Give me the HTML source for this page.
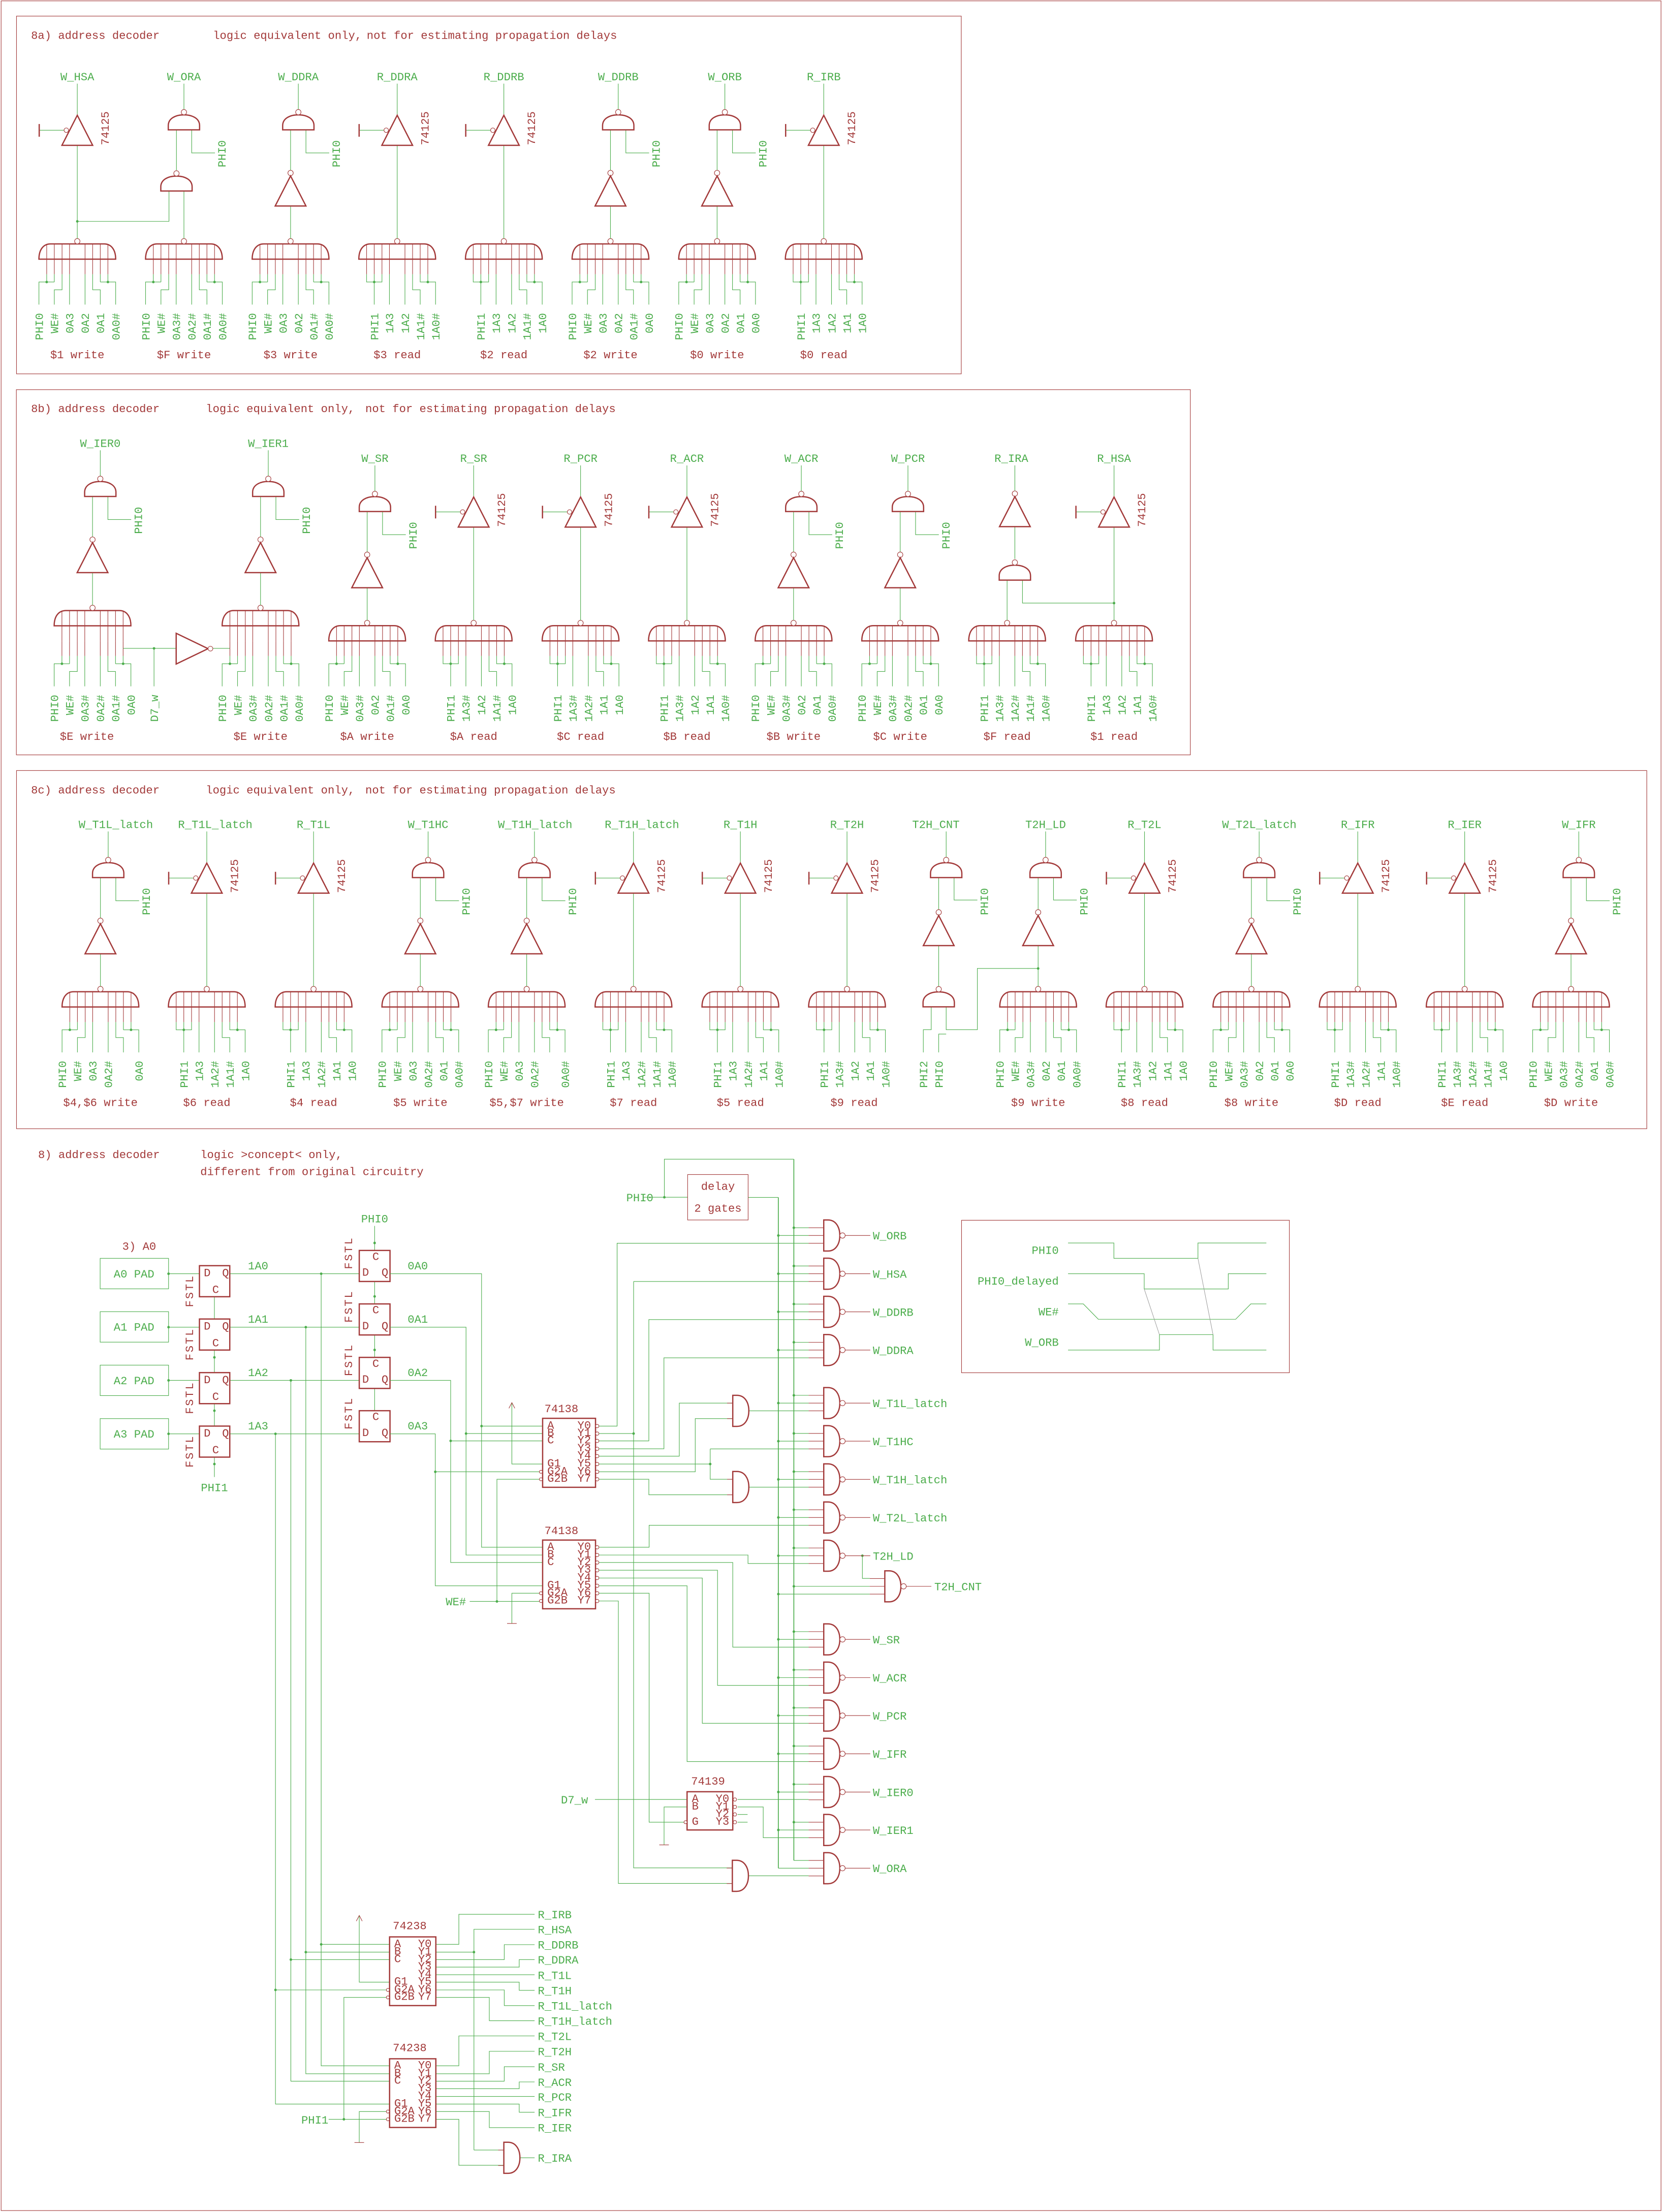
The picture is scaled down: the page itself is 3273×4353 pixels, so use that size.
<!DOCTYPE html>
<html><head><meta charset="utf-8"><style>
html,body{margin:0;padding:0;background:#fff}
svg{display:block}
svg text{font-family:"Liberation Mono",monospace;font-size:8px}
.tg{fill:#4cad4c}.tr{fill:#a33a3a}
.pl text{text-anchor:end;fill:#4cad4c}
.m{text-anchor:middle}.e{text-anchor:end}
.r{stroke:#a33a3a;stroke-width:.4;fill:none}
.R{stroke:#a33a3a;stroke-width:.9;fill:none}
.g{stroke:#4cad4c;stroke-width:.4;fill:none}
.g2{stroke:#4cad4c;stroke-width:.6;fill:none}
.gy{stroke:#999;stroke-width:.35;fill:none}
.b{stroke:#a33a3a;stroke-width:.4;fill:#fff}
.d{fill:#4cad4c}
.s{font-size:5px !important}
.f{font-size:7px !important;letter-spacing:1px}
</style></head><body>
<svg xmlns="http://www.w3.org/2000/svg" width="3273" height="4353" viewBox="0 0 1179 1568">
<defs>
<g id="db">
<path class="R" d="M-27.2,10.8H27.2C27.2,4 24,0 19,0H-19C-24,0 -27.2,4 -27.2,10.8Z"/>
<path class="r" d="M-21.7,0V21.5M-16.3,0V21.5M-10.8,0V21.5M-5.5,0V21.5M5.5,0V21.5M10.9,0V21.5M16.3,0V21.5M21.7,0V21.5"/>
<circle class="b" cx="0" cy="-1.9" r="1.9"/>
</g>
<path id="ext" class="r" d="M-21.7,21.5V32.2M-16.3,21.5V32.2M-10.8,21.5V32.2M-5.5,21.5V32.2M5.5,21.5V32.2M10.9,21.5V32.2M16.3,21.5V32.2M21.7,21.5V32.2"/>
<g id="w6">
<path class="g" d="M-27.2,0V-16H-16.3M-21.7,-21.5V-16M-16.3,-21.5V-16M-16.3,0V-10.5H-10.8V-21.5M-5.5,0V-21.5M5.5,0V-21.5M16.3,0V-10.5H10.9V-21.5M27.2,0V-16H16.3M21.7,-21.5V-16M16.3,-21.5V-16"/>
<circle class="d" cx="-21.7" cy="-16" r=".9"/><circle class="d" cx="21.7" cy="-16" r=".9"/>
</g>
<g id="w5">
<path class="g" d="M-16.3,0V-21.5M-21.7,-21.5V-16H-10.8V-21.5M-5.5,0V-21.5M5.5,0V-21.5M16.3,0V-10.5H10.9V-21.5M27.2,0V-16H16.3V-21.5M21.7,-21.5V-16"/>
<circle class="d" cx="-16.3" cy="-16" r=".9"/><circle class="d" cx="21.7" cy="-16" r=".9"/>
</g>
<g id="nd">
<path class="R" d="M-11.1,0H11.1V-3C11.1,-8 6,-10.6 0,-10.6C-6,-10.6 -11.1,-8 -11.1,-3Z"/>
<circle class="b" cx="0" cy="-12.5" r="1.9"/>
</g>
<path id="tri" class="R" d="M0,0L10.9,21.3H-10.9Z"/>
<g id="rd">
<path class="g" d="M0,-113.6V-91.2M0,-70V-3.8M-9.4,-80.6H-27"/>
<use href="#tri" y="-91.2"/>
<circle class="b" cx="-7.8" cy="-80.6" r="1.6"/>
<path class="R" d="M-27,-85V-76"/>
</g>
<g id="wr">
<path class="g" d="M5.5,-113.6V-95.3M0,-80.9V-52.2M10.9,-80.9V-64.5H27.4M0,-26.9V-3.8"/>
<use href="#nd" x="5.5" y="-80.9"/>
<circle class="b" cx="0" cy="-50.3" r="1.9"/>
<use href="#tri" y="-48.2"/>
</g>
<g id="ng">
<path class="r" d="M-10.7,-5.5H0M-10.7,0H0M-10.7,5.5H0M15.2,0H33"/>
<path class="R" d="M0,-11V11H3C8.5,11 11.4,6 11.4,0C11.4,-6 8.5,-11 3,-11Z"/>
<circle class="b" cx="13.3" cy="0" r="1.9"/>
</g>
<g id="ag">
<path class="r" d="M-4,-5.5H0M-4,5.5H0"/>
<path class="R" d="M0,-11V11H3C8.5,11 11.4,6 11.4,0C11.4,-6 8.5,-11 3,-11Z"/>
</g>
</defs>

<rect x="0" y="0" width="1179" height="1568" fill="#fff"/>
<rect class="r" x="0.8" y="0.6" width="1176.8" height="1566.4"/>

<!-- ================= 8a ================= -->
<rect class="r" x="11.7" y="11.4" width="669.8" height="253.6"/>
<text class="tr" x="22" y="27.6">8a) address decoder</text>
<text class="tr" x="151" y="27.6">logic equivalent only,</text>
<text class="tr" x="260" y="27.6">not for estimating propagation delays</text>

<g transform="translate(54.8,172.9)">
<use href="#db"/><use href="#w6" y="43"/><use href="#rd"/>
<text class="tg m" y="-116">W_HSA</text>
<text class="tr" transform="translate(22.2,-70)rotate(-90)">74125</text>
<text class="tr m" y="81">$1 write</text>
<g class="pl"><text transform="translate(-24.4,49)rotate(-90)">PHI0</text><text transform="translate(-13.5,49)rotate(-90)">WE#</text><text transform="translate(-2.7,49)rotate(-90)">0A3</text><text transform="translate(8.3,49)rotate(-90)">0A2</text><text transform="translate(19.1,49)rotate(-90)">0A1</text><text transform="translate(30,49)rotate(-90)">0A0#</text></g>
</g>
<g transform="translate(130.4,172.9)">
<use href="#db"/><use href="#w6" y="43"/>
<path class="g" d="M0,-113.6V-95.3M-5.3,-80.9V-52.2M5.5,-80.9V-64.5H22M-10.6,-37.5V-16H-75.6M0,-37.5V-3.8"/>
<use href="#nd" y="-80.9"/><use href="#nd" x="-5.3" y="-37.5"/>
<circle class="d" cx="-75.6" cy="-16" r=".9"/>
<text class="tg m" y="-116">W_ORA</text>
<text class="tg" transform="translate(29.6,-73.5)rotate(-90)" text-anchor="end">PHI0</text>
<text class="tr m" y="81">$F write</text>
<g class="pl"><text transform="translate(-24.4,49)rotate(-90)">PHI0</text><text transform="translate(-13.5,49)rotate(-90)">WE#</text><text transform="translate(-2.7,49)rotate(-90)">0A3#</text><text transform="translate(8.3,49)rotate(-90)">0A2#</text><text transform="translate(19.1,49)rotate(-90)">0A1#</text><text transform="translate(30,49)rotate(-90)">0A0#</text></g>
</g>
<g transform="translate(206,172.9)">
<use href="#db"/><use href="#w6" y="43"/><use href="#wr"/>
<text class="tg m" x="5.5" y="-116">W_DDRA</text>
<text class="tg" transform="translate(35,-73.5)rotate(-90)" text-anchor="end">PHI0</text>
<text class="tr m" y="81">$3 write</text>
<g class="pl"><text transform="translate(-24.4,49)rotate(-90)">PHI0</text><text transform="translate(-13.5,49)rotate(-90)">WE#</text><text transform="translate(-2.7,49)rotate(-90)">0A3</text><text transform="translate(8.3,49)rotate(-90)">0A2</text><text transform="translate(19.1,49)rotate(-90)">0A1#</text><text transform="translate(30,49)rotate(-90)">0A0#</text></g>
</g>
<g transform="translate(281.6,172.9)">
<use href="#db"/><use href="#w5" y="43"/><use href="#rd"/>
<text class="tg m" y="-116">R_DDRA</text>
<text class="tr" transform="translate(22.2,-70)rotate(-90)">74125</text>
<text class="tr m" y="81">$3 read</text>
<g class="pl"><text transform="translate(-13.5,49)rotate(-90)">PHI1</text><text transform="translate(-2.7,49)rotate(-90)">1A3</text><text transform="translate(8.3,49)rotate(-90)">1A2</text><text transform="translate(19.1,49)rotate(-90)">1A1#</text><text transform="translate(30,49)rotate(-90)">1A0#</text></g>
</g>
<g transform="translate(357.2,172.9)">
<use href="#db"/><use href="#w5" y="43"/><use href="#rd"/>
<text class="tg m" y="-116">R_DDRB</text>
<text class="tr" transform="translate(22.2,-70)rotate(-90)">74125</text>
<text class="tr m" y="81">$2 read</text>
<g class="pl"><text transform="translate(-13.5,49)rotate(-90)">PHI1</text><text transform="translate(-2.7,49)rotate(-90)">1A3</text><text transform="translate(8.3,49)rotate(-90)">1A2</text><text transform="translate(19.1,49)rotate(-90)">1A1#</text><text transform="translate(30,49)rotate(-90)">1A0</text></g>
</g>
<g transform="translate(432.8,172.9)">
<use href="#db"/><use href="#w6" y="43"/><use href="#wr"/>
<text class="tg m" x="5.5" y="-116">W_DDRB</text>
<text class="tg" transform="translate(35,-73.5)rotate(-90)" text-anchor="end">PHI0</text>
<text class="tr m" y="81">$2 write</text>
<g class="pl"><text transform="translate(-24.4,49)rotate(-90)">PHI0</text><text transform="translate(-13.5,49)rotate(-90)">WE#</text><text transform="translate(-2.7,49)rotate(-90)">0A3</text><text transform="translate(8.3,49)rotate(-90)">0A2</text><text transform="translate(19.1,49)rotate(-90)">0A1#</text><text transform="translate(30,49)rotate(-90)">0A0</text></g>
</g>
<g transform="translate(508.4,172.9)">
<use href="#db"/><use href="#w6" y="43"/><use href="#wr"/>
<text class="tg m" x="5.5" y="-116">W_ORB</text>
<text class="tg" transform="translate(35,-73.5)rotate(-90)" text-anchor="end">PHI0</text>
<text class="tr m" y="81">$0 write</text>
<g class="pl"><text transform="translate(-24.4,49)rotate(-90)">PHI0</text><text transform="translate(-13.5,49)rotate(-90)">WE#</text><text transform="translate(-2.7,49)rotate(-90)">0A3</text><text transform="translate(8.3,49)rotate(-90)">0A2</text><text transform="translate(19.1,49)rotate(-90)">0A1</text><text transform="translate(30,49)rotate(-90)">0A0</text></g>
</g>
<g transform="translate(584,172.9)">
<use href="#db"/><use href="#w5" y="43"/><use href="#rd"/>
<text class="tg m" y="-116">R_IRB</text>
<text class="tr" transform="translate(22.2,-70)rotate(-90)">74125</text>
<text class="tr m" y="81">$0 read</text>
<g class="pl"><text transform="translate(-13.5,49)rotate(-90)">PHI1</text><text transform="translate(-2.7,49)rotate(-90)">1A3</text><text transform="translate(8.3,49)rotate(-90)">1A2</text><text transform="translate(19.1,49)rotate(-90)">1A1</text><text transform="translate(30,49)rotate(-90)">1A0</text></g>
</g>

<!-- ================= 8b ================= -->
<rect class="r" x="11.6" y="276.2" width="832.3" height="258.9"/>
<text class="tr" x="22" y="292.2">8b) address decoder</text>
<text class="tr" x="146" y="292.2">logic equivalent only,</text>
<text class="tr" x="259" y="292.2">not for estimating propagation delays</text>

<g transform="translate(65.6,432.8)">
<use href="#db"/><use href="#ext"/><use href="#w6" y="53.7"/><use href="#wr"/>
<text class="tg m" x="5.5" y="-116">W_IER0</text>
<text class="tg" transform="translate(35,-73.5)rotate(-90)" text-anchor="end">PHI0</text>
<text class="tr m" x="-4" y="91.7">$E write</text>
<g class="pl"><text transform="translate(-24.4,59.7)rotate(-90)">PHI0</text><text transform="translate(-13.5,59.7)rotate(-90)">WE#</text><text transform="translate(-2.7,59.7)rotate(-90)">0A3#</text><text transform="translate(8.3,59.7)rotate(-90)">0A2#</text><text transform="translate(19.1,59.7)rotate(-90)">0A1#</text><text transform="translate(30,59.7)rotate(-90)">0A0</text><text transform="translate(46.4,59.7)rotate(-90)">D7_w</text></g>
</g>
<path class="g" d="M87.3,459.6H124.9M150.9,459.6H163M109.2,459.6V486.5"/>
<path class="R" d="M124.9,448.9L147.5,459.8L124.9,470.7Z"/>
<circle class="b" cx="149.2" cy="459.8" r="1.7"/>
<circle class="d" cx="109.2" cy="459.6" r=".9"/>
<g transform="translate(184.7,432.8)">
<use href="#db"/><use href="#ext"/><use href="#w6" y="53.7"/><use href="#wr"/>
<text class="tg m" x="5.5" y="-116">W_IER1</text>
<text class="tg" transform="translate(35,-73.5)rotate(-90)" text-anchor="end">PHI0</text>
<text class="tr m" y="91.7">$E write</text>
<g class="pl"><text transform="translate(-24.4,59.7)rotate(-90)">PHI0</text><text transform="translate(-13.5,59.7)rotate(-90)">WE#</text><text transform="translate(-2.7,59.7)rotate(-90)">0A3#</text><text transform="translate(8.3,59.7)rotate(-90)">0A2#</text><text transform="translate(19.1,59.7)rotate(-90)">0A1#</text><text transform="translate(30,59.7)rotate(-90)">0A0#</text></g>
</g>
<g transform="translate(260.3,443.5)">
<use href="#db"/><use href="#w6" y="43"/><use href="#wr"/>
<text class="tg m" x="5.5" y="-116">W_SR</text>
<text class="tg" transform="translate(35,-73.5)rotate(-90)" text-anchor="end">PHI0</text>
<text class="tr m" y="81">$A write</text>
<g class="pl"><text transform="translate(-24.4,49)rotate(-90)">PHI0</text><text transform="translate(-13.5,49)rotate(-90)">WE#</text><text transform="translate(-2.7,49)rotate(-90)">0A3#</text><text transform="translate(8.3,49)rotate(-90)">0A2</text><text transform="translate(19.1,49)rotate(-90)">0A1#</text><text transform="translate(30,49)rotate(-90)">0A0</text></g>
</g>
<g transform="translate(335.8,443.5)">
<use href="#db"/><use href="#w5" y="43"/><use href="#rd"/>
<text class="tg m" y="-116">R_SR</text>
<text class="tr" transform="translate(22.2,-70)rotate(-90)">74125</text>
<text class="tr m" y="81">$A read</text>
<g class="pl"><text transform="translate(-13.5,49)rotate(-90)">PHI1</text><text transform="translate(-2.7,49)rotate(-90)">1A3#</text><text transform="translate(8.3,49)rotate(-90)">1A2</text><text transform="translate(19.1,49)rotate(-90)">1A1#</text><text transform="translate(30,49)rotate(-90)">1A0</text></g>
</g>
<g transform="translate(411.6,443.5)">
<use href="#db"/><use href="#w5" y="43"/><use href="#rd"/>
<text class="tg m" y="-116">R_PCR</text>
<text class="tr" transform="translate(22.2,-70)rotate(-90)">74125</text>
<text class="tr m" y="81">$C read</text>
<g class="pl"><text transform="translate(-13.5,49)rotate(-90)">PHI1</text><text transform="translate(-2.7,49)rotate(-90)">1A3#</text><text transform="translate(8.3,49)rotate(-90)">1A2#</text><text transform="translate(19.1,49)rotate(-90)">1A1</text><text transform="translate(30,49)rotate(-90)">1A0</text></g>
</g>
<g transform="translate(487,443.5)">
<use href="#db"/><use href="#w5" y="43"/><use href="#rd"/>
<text class="tg m" y="-116">R_ACR</text>
<text class="tr" transform="translate(22.2,-70)rotate(-90)">74125</text>
<text class="tr m" y="81">$B read</text>
<g class="pl"><text transform="translate(-13.5,49)rotate(-90)">PHI1</text><text transform="translate(-2.7,49)rotate(-90)">1A3#</text><text transform="translate(8.3,49)rotate(-90)">1A2</text><text transform="translate(19.1,49)rotate(-90)">1A1</text><text transform="translate(30,49)rotate(-90)">1A0#</text></g>
</g>
<g transform="translate(562.6,443.5)">
<use href="#db"/><use href="#w6" y="43"/><use href="#wr"/>
<text class="tg m" x="5.5" y="-116">W_ACR</text>
<text class="tg" transform="translate(35,-73.5)rotate(-90)" text-anchor="end">PHI0</text>
<text class="tr m" y="81">$B write</text>
<g class="pl"><text transform="translate(-24.4,49)rotate(-90)">PHI0</text><text transform="translate(-13.5,49)rotate(-90)">WE#</text><text transform="translate(-2.7,49)rotate(-90)">0A3#</text><text transform="translate(8.3,49)rotate(-90)">0A2</text><text transform="translate(19.1,49)rotate(-90)">0A1</text><text transform="translate(30,49)rotate(-90)">0A0#</text></g>
</g>
<g transform="translate(638.2,443.5)">
<use href="#db"/><use href="#w6" y="43"/><use href="#wr"/>
<text class="tg m" x="5.5" y="-116">W_PCR</text>
<text class="tg" transform="translate(35,-73.5)rotate(-90)" text-anchor="end">PHI0</text>
<text class="tr m" y="81">$C write</text>
<g class="pl"><text transform="translate(-24.4,49)rotate(-90)">PHI0</text><text transform="translate(-13.5,49)rotate(-90)">WE#</text><text transform="translate(-2.7,49)rotate(-90)">0A3#</text><text transform="translate(8.3,49)rotate(-90)">0A2#</text><text transform="translate(19.1,49)rotate(-90)">0A1</text><text transform="translate(30,49)rotate(-90)">0A0</text></g>
</g>
<g transform="translate(714,443.5)">
<use href="#db"/><use href="#w5" y="43"/>
<path class="g" d="M5.5,-113.6V-95.7M5.5,-69.9V-47.3M0,-32.3V-3.8M10.9,-32.3V-16H75.8"/>
<circle class="b" cx="5.5" cy="-93.6" r="1.9"/>
<use href="#tri" x="5.5" y="-91.5"/>
<use href="#nd" x="5.5" y="-32.3"/>
<circle class="d" cx="75.8" cy="-16" r=".9"/>
<text class="tg m" x="3" y="-116">R_IRA</text>
<text class="tr m" y="81">$F read</text>
<g class="pl"><text transform="translate(-13.5,49)rotate(-90)">PHI1</text><text transform="translate(-2.7,49)rotate(-90)">1A3#</text><text transform="translate(8.3,49)rotate(-90)">1A2#</text><text transform="translate(19.1,49)rotate(-90)">1A1#</text><text transform="translate(30,49)rotate(-90)">1A0#</text></g>
</g>
<g transform="translate(789.8,443.5)">
<use href="#db"/><use href="#w5" y="43"/><use href="#rd"/>
<text class="tg m" y="-116">R_HSA</text>
<text class="tr" transform="translate(22.2,-70)rotate(-90)">74125</text>
<text class="tr m" y="81">$1 read</text>
<g class="pl"><text transform="translate(-13.5,49)rotate(-90)">PHI1</text><text transform="translate(-2.7,49)rotate(-90)">1A3</text><text transform="translate(8.3,49)rotate(-90)">1A2</text><text transform="translate(19.1,49)rotate(-90)">1A1</text><text transform="translate(30,49)rotate(-90)">1A0#</text></g>
</g>

<!-- ================= 8c ================= -->
<rect class="r" x="11.7" y="546.2" width="1155.8" height="253.9"/>
<text class="tr" x="22" y="562.4">8c) address decoder</text>
<text class="tr" x="146" y="562.4">logic equivalent only,</text>
<text class="tr" x="259" y="562.4">not for estimating propagation delays</text>

<g transform="translate(71.2,703)">
<use href="#db"/><use href="#w6" y="43"/><use href="#wr"/>
<text class="tg m" x="10.9" y="-116">W_T1L_latch</text>
<text class="tg" transform="translate(35,-73.5)rotate(-90)" text-anchor="end">PHI0</text>
<text class="tr m" y="81">$4,$6 write</text>
<g class="pl"><text transform="translate(-24.4,49)rotate(-90)">PHI0</text><text transform="translate(-13.5,49)rotate(-90)">WE#</text><text transform="translate(-2.7,49)rotate(-90)">0A3</text><text transform="translate(8.3,49)rotate(-90)">0A2#</text><text transform="translate(30,49)rotate(-90)">0A0</text></g>
</g>
<g transform="translate(146.6,703)">
<use href="#db"/><use href="#w5" y="43"/><use href="#rd"/>
<text class="tg m" x="6" y="-116">R_T1L_latch</text>
<text class="tr" transform="translate(22.2,-70)rotate(-90)">74125</text>
<text class="tr m" y="81">$6 read</text>
<g class="pl"><text transform="translate(-13.5,49)rotate(-90)">PHI1</text><text transform="translate(-2.7,49)rotate(-90)">1A3</text><text transform="translate(8.3,49)rotate(-90)">1A2#</text><text transform="translate(19.1,49)rotate(-90)">1A1#</text><text transform="translate(30,49)rotate(-90)">1A0</text></g>
</g>
<g transform="translate(222.3,703)">
<use href="#db"/><use href="#w5" y="43"/><use href="#rd"/>
<text class="tg m" y="-116">R_T1L</text>
<text class="tr" transform="translate(22.2,-70)rotate(-90)">74125</text>
<text class="tr m" y="81">$4 read</text>
<g class="pl"><text transform="translate(-13.5,49)rotate(-90)">PHI1</text><text transform="translate(-2.7,49)rotate(-90)">1A3</text><text transform="translate(8.3,49)rotate(-90)">1A2#</text><text transform="translate(19.1,49)rotate(-90)">1A1</text><text transform="translate(30,49)rotate(-90)">1A0</text></g>
</g>
<g transform="translate(298,703)">
<use href="#db"/><use href="#w6" y="43"/><use href="#wr"/>
<text class="tg m" x="5.5" y="-116">W_T1HC</text>
<text class="tg" transform="translate(35,-73.5)rotate(-90)" text-anchor="end">PHI0</text>
<text class="tr m" y="81">$5 write</text>
<g class="pl"><text transform="translate(-24.4,49)rotate(-90)">PHI0</text><text transform="translate(-13.5,49)rotate(-90)">WE#</text><text transform="translate(-2.7,49)rotate(-90)">0A3</text><text transform="translate(8.3,49)rotate(-90)">0A2#</text><text transform="translate(19.1,49)rotate(-90)">0A1</text><text transform="translate(30,49)rotate(-90)">0A0#</text></g>
</g>
<g transform="translate(373.4,703)">
<use href="#db"/><use href="#w6" y="43"/><use href="#wr"/>
<text class="tg m" x="6" y="-116">W_T1H_latch</text>
<text class="tg" transform="translate(35,-73.5)rotate(-90)" text-anchor="end">PHI0</text>
<text class="tr m" y="81">$5,$7 write</text>
<g class="pl"><text transform="translate(-24.4,49)rotate(-90)">PHI0</text><text transform="translate(-13.5,49)rotate(-90)">WE#</text><text transform="translate(-2.7,49)rotate(-90)">0A3</text><text transform="translate(8.3,49)rotate(-90)">0A2#</text><text transform="translate(30,49)rotate(-90)">0A0#</text></g>
</g>
<g transform="translate(449.1,703)">
<use href="#db"/><use href="#w5" y="43"/><use href="#rd"/>
<text class="tg m" x="6" y="-116">R_T1H_latch</text>
<text class="tr" transform="translate(22.2,-70)rotate(-90)">74125</text>
<text class="tr m" y="81">$7 read</text>
<g class="pl"><text transform="translate(-13.5,49)rotate(-90)">PHI1</text><text transform="translate(-2.7,49)rotate(-90)">1A3</text><text transform="translate(8.3,49)rotate(-90)">1A2#</text><text transform="translate(19.1,49)rotate(-90)">1A1#</text><text transform="translate(30,49)rotate(-90)">1A0#</text></g>
</g>
<g transform="translate(524.9,703)">
<use href="#db"/><use href="#w5" y="43"/><use href="#rd"/>
<text class="tg m" y="-116">R_T1H</text>
<text class="tr" transform="translate(22.2,-70)rotate(-90)">74125</text>
<text class="tr m" y="81">$5 read</text>
<g class="pl"><text transform="translate(-13.5,49)rotate(-90)">PHI1</text><text transform="translate(-2.7,49)rotate(-90)">1A3</text><text transform="translate(8.3,49)rotate(-90)">1A2#</text><text transform="translate(19.1,49)rotate(-90)">1A1</text><text transform="translate(30,49)rotate(-90)">1A0#</text></g>
</g>
<g transform="translate(600.5,703)">
<use href="#db"/><use href="#w5" y="43"/><use href="#rd"/>
<text class="tg m" y="-116">R_T2H</text>
<text class="tr" transform="translate(22.2,-70)rotate(-90)">74125</text>
<text class="tr m" x="5" y="81">$9 read</text>
<g class="pl"><text transform="translate(-13.5,49)rotate(-90)">PHI1</text><text transform="translate(-2.7,49)rotate(-90)">1A3#</text><text transform="translate(8.3,49)rotate(-90)">1A2</text><text transform="translate(19.1,49)rotate(-90)">1A1</text><text transform="translate(30,49)rotate(-90)">1A0#</text></g>
</g>
<g transform="translate(665.5,703)">
<path class="g" d="M5.3,-113.6V-95.3M0,-80.9V-58.2M10.9,-80.9V-65H27.4M0,-32.5V-3.8M-5.3,10.7V26.9H-10.9V43M5.3,10.7V26.9H27.4V-16.5H70.5M0,43V30H5.3"/>
<use href="#nd" x="5.3" y="-80.9"/>
<circle class="b" cx="0" cy="-56.3" r="1.9"/>
<use href="#tri" y="-54"/>
<use href="#nd" y="10.7"/>
<circle class="d" cx="70.5" cy="-16.5" r=".9"/>
<text class="tg m" x="-2" y="-116">T2H_CNT</text>
<text class="tg" transform="translate(35,-73.5)rotate(-90)" text-anchor="end">PHI0</text>
<g class="pl"><text transform="translate(-8.1,49)rotate(-90)">PHI2</text><text transform="translate(2.8,49)rotate(-90)">PHI0</text></g>
</g>
<g transform="translate(736,703)">
<use href="#db"/><use href="#w6" y="43"/>
<path class="g" d="M5.3,-113.6V-95.3M0,-80.9V-58.2M10.9,-80.9V-65H27.4M0,-32.5V-3.8"/>
<use href="#nd" x="5.3" y="-80.9"/>
<circle class="b" cx="0" cy="-56.3" r="1.9"/>
<use href="#tri" y="-54"/>
<text class="tg m" x="5.3" y="-116">T2H_LD</text>
<text class="tg" transform="translate(35,-73.5)rotate(-90)" text-anchor="end">PHI0</text>
<text class="tr m" y="81">$9 write</text>
<g class="pl"><text transform="translate(-24.4,49)rotate(-90)">PHI0</text><text transform="translate(-13.5,49)rotate(-90)">WE#</text><text transform="translate(-2.7,49)rotate(-90)">0A3#</text><text transform="translate(8.3,49)rotate(-90)">0A2</text><text transform="translate(19.1,49)rotate(-90)">0A1</text><text transform="translate(30,49)rotate(-90)">0A0#</text></g>
</g>
<g transform="translate(811.4,703)">
<use href="#db"/><use href="#w5" y="43"/><use href="#rd"/>
<text class="tg m" y="-116">R_T2L</text>
<text class="tr" transform="translate(22.2,-70)rotate(-90)">74125</text>
<text class="tr m" y="81">$8 read</text>
<g class="pl"><text transform="translate(-13.5,49)rotate(-90)">PHI1</text><text transform="translate(-2.7,49)rotate(-90)">1A3#</text><text transform="translate(8.3,49)rotate(-90)">1A2</text><text transform="translate(19.1,49)rotate(-90)">1A1</text><text transform="translate(30,49)rotate(-90)">1A0</text></g>
</g>
<g transform="translate(887.2,703)">
<use href="#db"/><use href="#w6" y="43"/><use href="#wr"/>
<text class="tg m" x="5.6" y="-116">W_T2L_latch</text>
<text class="tg" transform="translate(35,-73.5)rotate(-90)" text-anchor="end">PHI0</text>
<text class="tr m" y="81">$8 write</text>
<g class="pl"><text transform="translate(-24.4,49)rotate(-90)">PHI0</text><text transform="translate(-13.5,49)rotate(-90)">WE#</text><text transform="translate(-2.7,49)rotate(-90)">0A3#</text><text transform="translate(8.3,49)rotate(-90)">0A2</text><text transform="translate(19.1,49)rotate(-90)">0A1</text><text transform="translate(30,49)rotate(-90)">0A0</text></g>
</g>
<g transform="translate(962.6,703)">
<use href="#db"/><use href="#w5" y="43"/><use href="#rd"/>
<text class="tg m" y="-116">R_IFR</text>
<text class="tr" transform="translate(22.2,-70)rotate(-90)">74125</text>
<text class="tr m" y="81">$D read</text>
<g class="pl"><text transform="translate(-13.5,49)rotate(-90)">PHI1</text><text transform="translate(-2.7,49)rotate(-90)">1A3#</text><text transform="translate(8.3,49)rotate(-90)">1A2#</text><text transform="translate(19.1,49)rotate(-90)">1A1</text><text transform="translate(30,49)rotate(-90)">1A0#</text></g>
</g>
<g transform="translate(1038.4,703)">
<use href="#db"/><use href="#w5" y="43"/><use href="#rd"/>
<text class="tg m" y="-116">R_IER</text>
<text class="tr" transform="translate(22.2,-70)rotate(-90)">74125</text>
<text class="tr m" y="81">$E read</text>
<g class="pl"><text transform="translate(-13.5,49)rotate(-90)">PHI1</text><text transform="translate(-2.7,49)rotate(-90)">1A3#</text><text transform="translate(8.3,49)rotate(-90)">1A2#</text><text transform="translate(19.1,49)rotate(-90)">1A1#</text><text transform="translate(30,49)rotate(-90)">1A0</text></g>
</g>
<g transform="translate(1113.8,703)">
<use href="#db"/><use href="#w6" y="43"/><use href="#wr"/>
<text class="tg m" x="5.5" y="-116">W_IFR</text>
<text class="tg" transform="translate(35,-73.5)rotate(-90)" text-anchor="end">PHI0</text>
<text class="tr m" y="81">$D write</text>
<g class="pl"><text transform="translate(-24.4,49)rotate(-90)">PHI0</text><text transform="translate(-13.5,49)rotate(-90)">WE#</text><text transform="translate(-2.7,49)rotate(-90)">0A3#</text><text transform="translate(8.3,49)rotate(-90)">0A2#</text><text transform="translate(19.1,49)rotate(-90)">0A1</text><text transform="translate(30,49)rotate(-90)">0A0#</text></g>
</g>

<!-- ================= 8 (concept) ================= -->
<text class="tr" x="27" y="821">8) address decoder</text>
<text class="tr" x="142" y="821">logic &gt;concept&lt; only,</text>
<text class="tr" x="142" y="833">different from original circuitry</text>
<text class="tr" x="86.7" y="886">3) A0</text>

<!-- pads -->
<g class="g">
<rect x="71" y="892" width="48.5" height="21.6"/><rect x="71" y="929.8" width="48.5" height="21.6"/>
<rect x="71" y="967.7" width="48.5" height="21.6"/><rect x="71" y="1005.6" width="48.5" height="21.6"/>
<path d="M119.5,902.9H141.4M119.5,940.8H141.4M119.5,978.5H141.4M119.5,1016.4H141.4"/>
<path d="M152,919.2V935M152,957.1V973M152,994.8V1010.9M152,1032.7V1047"/>
<path d="M265.6,869V886.4M265.6,908.4V924.3M265.6,946.1V962.2M265.6,984V1000"/>
<path d="M162.9,902.9H254.7M162.9,940.8H254.7M162.9,978.5H254.7M162.9,1016.4H254.7"/>
</g>
<g class="tg m"><text x="95" y="905.5">A0 PAD</text><text x="95" y="943.3">A1 PAD</text><text x="95" y="981.2">A2 PAD</text><text x="95" y="1019.1">A3 PAD</text></g>
<g class="d"><circle cx="119.5" cy="902.9" r=".9"/><circle cx="119.5" cy="940.8" r=".9"/><circle cx="119.5" cy="978.5" r=".9"/><circle cx="119.5" cy="1016.4" r=".9"/>
<circle cx="152" cy="962.2" r=".9"/><circle cx="152" cy="1000" r=".9"/><circle cx="152" cy="1037.8" r=".9"/>
<circle cx="265.6" cy="881.1" r=".9"/><circle cx="265.6" cy="919" r=".9"/><circle cx="265.6" cy="956.9" r=".9"/>
<circle cx="227.7" cy="902.9" r=".9"/><circle cx="216.8" cy="940.8" r=".9"/><circle cx="206.2" cy="978.5" r=".9"/><circle cx="195.3" cy="1016.4" r=".9"/></g>
<!-- FF1 -->
<g class="R"><rect x="141.4" y="897.2" width="21.5" height="22"/><rect x="141.4" y="935" width="21.5" height="22"/><rect x="141.4" y="973" width="21.5" height="22"/><rect x="141.4" y="1010.9" width="21.5" height="22"/>
<rect x="254.7" y="886.4" width="21.8" height="22"/><rect x="254.7" y="924.3" width="21.8" height="22"/><rect x="254.7" y="962.2" width="21.8" height="22"/><rect x="254.7" y="1000" width="21.8" height="22"/></g>
<g class="tr s">
<text x="144.5" y="904.7">D</text><text x="157.5" y="904.7">Q</text><text x="150.5" y="916.5">C</text>
<text x="144.5" y="942.5">D</text><text x="157.5" y="942.5">Q</text><text x="150.5" y="954.3">C</text>
<text x="144.5" y="980.5">D</text><text x="157.5" y="980.5">Q</text><text x="150.5" y="992.3">C</text>
<text x="144.5" y="1018.4">D</text><text x="157.5" y="1018.4">Q</text><text x="150.5" y="1030.2">C</text>
<text x="264" y="893.1">C</text><text x="256.8" y="904.4">D</text><text x="270.5" y="904.4">Q</text>
<text x="264" y="931">C</text><text x="256.8" y="942.3">D</text><text x="270.5" y="942.3">Q</text>
<text x="264" y="968.9">C</text><text x="256.8" y="980.2">D</text><text x="270.5" y="980.2">Q</text>
<text x="264" y="1006.7">C</text><text x="256.8" y="1018">D</text><text x="270.5" y="1018">Q</text>
</g>
<g class="tr f m">
<text transform="translate(136.8,915)rotate(-90)">FSTL</text><text transform="translate(136.8,952.8)rotate(-90)">FSTL</text><text transform="translate(136.8,990.8)rotate(-90)">FSTL</text><text transform="translate(136.8,1028.7)rotate(-90)">FSTL</text>
<text transform="translate(249.7,888.1)rotate(-90)">FSTL</text><text transform="translate(249.7,926)rotate(-90)">FSTL</text><text transform="translate(249.7,963.9)rotate(-90)">FSTL</text><text transform="translate(249.7,1001.7)rotate(-90)">FSTL</text>
</g>
<g class="tg">
<text x="175.8" y="899.8">1A0</text><text x="175.8" y="937.6">1A1</text><text x="175.8" y="975.4">1A2</text><text x="175.8" y="1013.2">1A3</text>
<text x="289" y="899.8">0A0</text><text x="289" y="937.6">0A1</text><text x="289" y="975.4">0A2</text><text x="289" y="1013.2">0A3</text>
<text class="m" x="152" y="1057">PHI1</text><text class="m" x="265.6" y="866.5">PHI0</text>
<text x="316" y="1138">WE#</text><text x="444" y="851.5">PHI0</text><text x="397.7" y="1278.4">D7_w</text>
<text x="213.6" y="1505.4">PHI1</text>
</g>

<!-- wiring to 74138s -->
<g class="g">
<path d="M276.5,902.9H341.4V1096.8H384.7M341.4,1010.9H384.7"/>
<path d="M276.5,940.8H330.4V1102.3H384.7M330.4,1016.2H384.7"/>
<path d="M276.5,978.5H319.5V1107.6H384.7M319.5,1021.4H384.7"/>
<path d="M276.5,1016.4H308.6V1124.1H384.7M308.6,1043.3H382.4"/>
<path d="M384.7,1037.8H362.9V994.3"/>
<path d="M382.4,1048.6H352.3V1135.2M333,1135.2H382.4"/>
<path d="M382.4,1129.4H362.9V1150.8"/>
</g>
<path class="r" d="M360.8,998.3L362.9,994.3L365,998.3M359.5,1150.8H366.3"/>
<g class="d"><circle cx="341.4" cy="1010.9" r=".9"/><circle cx="330.4" cy="1016.2" r=".9"/><circle cx="319.5" cy="1021.4" r=".9"/><circle cx="308.6" cy="1043.3" r=".9"/><circle cx="352.3" cy="1135.2" r=".9"/></g>

<!-- 74138 #1 -->
<rect class="R" x="384.7" y="1005.4" width="37.5" height="48.9"/>
<text class="tr" x="386" y="1001">74138</text>
<g class="tr s"><text x="388" y="1012.7">A</text><text x="388" y="1018">B</text><text x="388" y="1023.2">C</text><text x="388" y="1039.6">G1</text><text x="388" y="1045.1">G2A</text><text x="388" y="1050.4">G2B</text></g>
<g class="tr s e"><text x="419" y="1012.7">Y0</text><text x="419" y="1018">Y1</text><text x="419" y="1023.2">Y2</text><text x="419" y="1028.8">Y3</text><text x="419" y="1034">Y4</text><text x="419" y="1039.6">Y5</text><text x="419" y="1045.1">Y6</text><text x="419" y="1050.4">Y7</text></g>
<g class="b"><circle cx="423.4" cy="1010.9" r="1.2"/><circle cx="423.4" cy="1016.2" r="1.2"/><circle cx="423.4" cy="1021.4" r="1.2"/><circle cx="423.4" cy="1027" r="1.2"/><circle cx="423.4" cy="1032.2" r="1.2"/><circle cx="423.4" cy="1037.8" r="1.2"/><circle cx="423.4" cy="1043.3" r="1.2"/><circle cx="423.4" cy="1048.6" r="1.2"/><circle cx="383.5" cy="1043.3" r="1.1"/><circle cx="383.5" cy="1048.6" r="1.1"/></g>
<!-- 74138 #2 -->
<rect class="R" x="384.7" y="1091.7" width="37.5" height="48.7"/>
<text class="tr" x="386" y="1087.5">74138</text>
<g class="tr s"><text x="388" y="1098.6">A</text><text x="388" y="1104.1">B</text><text x="388" y="1109.4">C</text><text x="388" y="1125.9">G1</text><text x="388" y="1131.2">G2A</text><text x="388" y="1136.7">G2B</text></g>
<g class="tr s e"><text x="419" y="1098.6">Y0</text><text x="419" y="1104.1">Y1</text><text x="419" y="1109.4">Y2</text><text x="419" y="1114.9">Y3</text><text x="419" y="1120.4">Y4</text><text x="419" y="1125.9">Y5</text><text x="419" y="1131.2">Y6</text><text x="419" y="1136.7">Y7</text></g>
<g class="b"><circle cx="423.4" cy="1096.8" r="1.2"/><circle cx="423.4" cy="1102.3" r="1.2"/><circle cx="423.4" cy="1107.6" r="1.2"/><circle cx="423.4" cy="1113.1" r="1.2"/><circle cx="423.4" cy="1118.6" r="1.2"/><circle cx="423.4" cy="1124.1" r="1.2"/><circle cx="423.4" cy="1129.4" r="1.2"/><circle cx="423.4" cy="1134.9" r="1.2"/><circle cx="383.5" cy="1129.4" r="1.1"/><circle cx="383.5" cy="1134.9" r="1.1"/></g>

<!-- decoder outputs -->
<g class="g">
<path d="M424.6,1010.9H437.5V881.3H573.3"/>
<path d="M424.6,1016.2H449.2M449.2,908.4V1324.1H519.2M449.2,908.4H573.3"/>
<path d="M424.6,1021.4H460V935.4H573.3"/>
<path d="M424.6,1027H470.7V962.5H573.3"/>
<path d="M424.6,1032.2H481.6V994.6H519.5"/>
<path d="M424.6,1037.8H503.5M503.5,1027.1V1048.6H519.5M503.5,1027.1H573.3"/>
<path d="M424.6,1043.3H492.9V1005.6H519.5"/>
<path d="M424.6,1048.6H460V1059.6H519.5"/>
<path d="M530.4,1000.1H573.3M530.4,1054.2H573.3"/>
<path d="M424.6,1096.8H460.2V1081.2H573.3"/>
<path d="M424.6,1102.3H530.3V1108.3H573.3"/>
<path d="M424.6,1107.6H519.5V1167.6H573.3"/>
<path d="M424.6,1113.1H508.7V1194.7H573.3"/>
<path d="M424.6,1118.6H497.9V1221.6H573.3"/>
<path d="M424.6,1124.1H487.1V1248.7H573.3"/>
<path d="M424.6,1129.4H460.2V1291.7H485"/>
<path d="M424.6,1134.9H438.4V1335.1H519.2"/>
<path d="M522.9,1275.6H573.3M522.9,1280.9H541.1V1302.7H573.3M522.9,1286.2H530M522.9,1291.7H530"/>
<path d="M530.3,1329.7H573.3"/>
<path d="M421.8,1275.6H487.1M487.1,1280.9H470.8V1307.8"/>
<path d="M611.4,1102.8V1118.9H616.6M562.8,1124.5H616.6M551.8,1130H616.6"/>
<path d="M456,848.7H487.5M471,848.7V821.7H562.8M530.4,848.8H551.8"/>
</g>
<path class="g2" d="M562.8,821.7V1318.8M551.8,848.8V1324.3"/>
<path class="r" d="M467.4,1307.8H474.2"/>
<g class="d"><circle cx="449.2" cy="1016.2" r=".9"/><circle cx="503.5" cy="1037.8" r=".9"/><circle cx="611.4" cy="1102.8" r=".9"/><circle cx="562.8" cy="1124.5" r=".9"/><circle cx="551.8" cy="1130" r=".9"/><circle cx="471" cy="848.7" r=".9"/></g>

<!-- delay box -->
<rect class="r" x="487.5" y="832.6" width="42.9" height="32.2"/>
<text class="tr m" x="509" y="843.5">delay</text>
<text class="tr m" x="509" y="859">2 gates</text>

<!-- AND gates -->
<use href="#ag" x="519.5" y="1000.1"/>
<use href="#ag" x="519.5" y="1054.1"/>
<use href="#ag" x="519.2" y="1329.7"/>

<!-- write gates -->
<g class="g">
<path d="M562.8,870.3H573.3M551.8,875.8H573.3M562.8,897.4H573.3M551.8,902.9H573.3M562.8,924.4H573.3M551.8,929.9H573.3M562.8,951.5H573.3M551.8,957H573.3M562.8,989.1H573.3M551.8,994.6H573.3M562.8,1016.1H573.3M551.8,1021.6H573.3M562.8,1043.2H573.3M551.8,1048.7H573.3M562.8,1070.2H573.3M551.8,1075.7H573.3M562.8,1097.3H573.3M551.8,1102.8H573.3M562.8,1156.6H573.3M551.8,1162.1H573.3M562.8,1183.7H573.3M551.8,1189.2H573.3M562.8,1210.6H573.3M551.8,1216.1H573.3M562.8,1237.7H573.3M551.8,1243.2H573.3M562.8,1264.8H573.3M551.8,1270.3H573.3M562.8,1291.7H573.3M551.8,1297.2H573.3M562.8,1318.8H573.3M551.8,1324.3H573.3"/>
</g>
<g class="d">
<circle cx="562.8" cy="870.3" r=".9"/><circle cx="551.8" cy="875.8" r=".9"/><circle cx="562.8" cy="897.4" r=".9"/><circle cx="551.8" cy="902.9" r=".9"/><circle cx="562.8" cy="924.4" r=".9"/><circle cx="551.8" cy="929.9" r=".9"/><circle cx="562.8" cy="951.5" r=".9"/><circle cx="551.8" cy="957" r=".9"/><circle cx="562.8" cy="989.1" r=".9"/><circle cx="551.8" cy="994.6" r=".9"/><circle cx="562.8" cy="1016.1" r=".9"/><circle cx="551.8" cy="1021.6" r=".9"/><circle cx="562.8" cy="1043.2" r=".9"/><circle cx="551.8" cy="1048.7" r=".9"/><circle cx="562.8" cy="1070.2" r=".9"/><circle cx="551.8" cy="1075.7" r=".9"/><circle cx="562.8" cy="1097.3" r=".9"/><circle cx="551.8" cy="1102.8" r=".9"/><circle cx="562.8" cy="1156.6" r=".9"/><circle cx="551.8" cy="1162.1" r=".9"/><circle cx="562.8" cy="1183.7" r=".9"/><circle cx="551.8" cy="1189.2" r=".9"/><circle cx="562.8" cy="1210.6" r=".9"/><circle cx="551.8" cy="1216.1" r=".9"/><circle cx="562.8" cy="1237.7" r=".9"/><circle cx="551.8" cy="1243.2" r=".9"/><circle cx="562.8" cy="1264.8" r=".9"/><circle cx="551.8" cy="1270.3" r=".9"/><circle cx="562.8" cy="1291.7" r=".9"/><circle cx="551.8" cy="1297.2" r=".9"/>
</g>
<use href="#ng" x="584" y="875.8"/><use href="#ng" x="584" y="902.9"/><use href="#ng" x="584" y="929.9"/><use href="#ng" x="584" y="957"/>
<use href="#ng" x="584" y="994.6"/><use href="#ng" x="584" y="1021.6"/><use href="#ng" x="584" y="1048.7"/><use href="#ng" x="584" y="1075.7"/>
<use href="#ng" x="584" y="1102.8"/><use href="#ng" x="584" y="1162.1"/><use href="#ng" x="584" y="1189.2"/><use href="#ng" x="584" y="1216.1"/>
<use href="#ng" x="584" y="1243.2"/><use href="#ng" x="584" y="1270.3"/><use href="#ng" x="584" y="1297.2"/><use href="#ng" x="584" y="1324.3"/>
<use href="#ng" x="627.3" y="1124.5"/>
<g class="tg">
<text x="618.8" y="878.6">W_ORB</text><text x="618.8" y="905.7">W_HSA</text><text x="618.8" y="932.7">W_DDRB</text><text x="618.8" y="959.8">W_DDRA</text>
<text x="618.8" y="997.4">W_T1L_latch</text><text x="618.8" y="1024.4">W_T1HC</text><text x="618.8" y="1051.5">W_T1H_latch</text><text x="618.8" y="1078.5">W_T2L_latch</text>
<text x="618.8" y="1105.6">T2H_LD</text><text x="618.8" y="1164.9">W_SR</text><text x="618.8" y="1192">W_ACR</text><text x="618.8" y="1218.9">W_PCR</text>
<text x="618.8" y="1246">W_IFR</text><text x="618.8" y="1273.1">W_IER0</text><text x="618.8" y="1300">W_IER1</text><text x="618.8" y="1327.1">W_ORA</text>
<text x="662.4" y="1127.3">T2H_CNT</text>
</g>

<!-- 74139 -->
<rect class="R" x="487.1" y="1270.1" width="32.4" height="27.1"/>
<text class="tr" x="490" y="1265">74139</text>
<g class="tr s"><text x="490.5" y="1277.4">A</text><text x="490.5" y="1282.7">B</text><text x="490.5" y="1293.5">G</text></g>
<g class="tr s e"><text x="517" y="1277.4">Y0</text><text x="517" y="1282.7">Y1</text><text x="517" y="1288">Y2</text><text x="517" y="1293.5">Y3</text></g>
<g class="b"><circle cx="521" cy="1275.6" r="1.2"/><circle cx="521" cy="1280.9" r="1.2"/><circle cx="521" cy="1286.2" r="1.2"/><circle cx="521" cy="1291.7" r="1.2"/><circle cx="486" cy="1291.7" r="1.1"/></g>

<!-- timing diagram -->
<rect class="r" x="681.7" y="865" width="232.4" height="108.1"/>
<g class="tg e"><text x="750.6" y="888.9">PHI0</text><text x="750.6" y="910.7">PHI0_delayed</text><text x="750.6" y="932.4">WE#</text><text x="750.6" y="954">W_ORB</text></g>
<path class="g" d="M757.2,881.1H789.7V892H849.3V881.1H897.8M757.2,902.9H811.2V913.7H870.8V902.9H897.8M757.2,924.3H768L778.7,935.2H876L886.8,924.3H897.8M757.2,957H822V946.1H860V957H897.8"/>
<path class="gy" d="M811.2,913.7L822,946.1M849.3,892L860,946.1"/>

<!-- 74238 section -->
<g class="g">
<path d="M227.7,902.9V1464.4H276.2M227.7,1378.3H276.2"/>
<path d="M216.8,940.8V1470H276.2M216.8,1383.8H276.2"/>
<path d="M206.2,978.5V1475.3H276.2M206.2,1389.1H276.2"/>
<path d="M195.3,1016.4V1491.5H276.2M195.3,1410.6H274"/>
<path d="M276.2,1405.1H254.7V1357.8"/>
<path d="M274,1415.9H243.8V1502.3M233,1502.3H274"/>
<path d="M274,1496.8H254.7V1518.8"/>
<path d="M309,1378.3H325.3V1357H379"/>
<path d="M309,1383.8H336M336,1524.1V1367.6H379M336,1524.1H357.2"/>
<path d="M309,1389.1H357.5V1378.5H379"/>
<path d="M309,1394.4H368.1V1389.1H379"/>
<path d="M309,1399.8H379"/>
<path d="M309,1405.1H368.1V1410.9H379"/>
<path d="M309,1410.6H357.5V1421.7H379"/>
<path d="M309,1415.9H346.9V1432.4H379"/>
<path d="M309,1464.4H325.3V1443.2H379"/>
<path d="M309,1470H346.9V1454.1H379"/>
<path d="M309,1475.3H357.5V1465H379"/>
<path d="M309,1480.6H368.1V1475.8H379"/>
<path d="M309,1486.1H379"/>
<path d="M309,1491.5H368.1V1497.3H379"/>
<path d="M309,1496.8H346.9V1508.2H379"/>
<path d="M309,1502.3H325.3V1534.9H357.2"/>
<path d="M368.7,1529.6H379"/>
</g>
<path class="r" d="M252.6,1361.8L254.7,1357.8L256.8,1361.8M251.3,1518.8H258.1"/>
<g class="d"><circle cx="227.7" cy="1378.3" r=".9"/><circle cx="216.8" cy="1383.8" r=".9"/><circle cx="206.2" cy="1389.1" r=".9"/><circle cx="195.3" cy="1410.6" r=".9"/><circle cx="243.8" cy="1502.3" r=".9"/><circle cx="336" cy="1383.8" r=".9"/></g>
<rect class="R" x="276.2" y="1373" width="32.8" height="48.7"/>
<text class="tr" x="278.5" y="1367.5">74238</text>
<g class="tr s"><text x="279.5" y="1380.1">A</text><text x="279.5" y="1385.6">B</text><text x="279.5" y="1390.9">C</text><text x="279.5" y="1406.9">G1</text><text x="279.5" y="1412.4">G2A</text><text x="279.5" y="1417.7">G2B</text></g>
<g class="tr s e"><text x="306" y="1380.1">Y0</text><text x="306" y="1385.6">Y1</text><text x="306" y="1390.9">Y2</text><text x="306" y="1396.2">Y3</text><text x="306" y="1401.6">Y4</text><text x="306" y="1406.9">Y5</text><text x="306" y="1412.4">Y6</text><text x="306" y="1417.7">Y7</text></g>
<rect class="R" x="276.2" y="1459.4" width="32.8" height="48.7"/>
<text class="tr" x="278.5" y="1454">74238</text>
<g class="tr s"><text x="279.5" y="1466.2">A</text><text x="279.5" y="1471.8">B</text><text x="279.5" y="1477.1">C</text><text x="279.5" y="1493.3">G1</text><text x="279.5" y="1498.6">G2A</text><text x="279.5" y="1504.1">G2B</text></g>
<g class="tr s e"><text x="306" y="1466.2">Y0</text><text x="306" y="1471.8">Y1</text><text x="306" y="1477.1">Y2</text><text x="306" y="1482.4">Y3</text><text x="306" y="1487.9">Y4</text><text x="306" y="1493.3">Y5</text><text x="306" y="1498.6">Y6</text><text x="306" y="1504.1">Y7</text></g>
<g class="b"><circle cx="275" cy="1410.6" r="1.1"/><circle cx="275" cy="1415.9" r="1.1"/><circle cx="275" cy="1496.8" r="1.1"/><circle cx="275" cy="1502.3" r="1.1"/></g>
<use href="#ag" x="357.2" y="1529.6"/>
<g class="tg">
<text x="381.3" y="1359.8">R_IRB</text><text x="381.3" y="1370.4">R_HSA</text><text x="381.3" y="1381.3">R_DDRB</text><text x="381.3" y="1391.9">R_DDRA</text>
<text x="381.3" y="1402.8">R_T1L</text><text x="381.3" y="1413.7">R_T1H</text><text x="381.3" y="1424.5">R_T1L_latch</text><text x="381.3" y="1435.2">R_T1H_latch</text>
<text x="381.3" y="1446">R_T2L</text><text x="381.3" y="1456.9">R_T2H</text><text x="381.3" y="1467.8">R_SR</text><text x="381.3" y="1478.6">R_ACR</text>
<text x="381.3" y="1489.2">R_PCR</text><text x="381.3" y="1500.1">R_IFR</text><text x="381.3" y="1511">R_IER</text><text x="381.3" y="1532.4">R_IRA</text>
</g>
</svg>
</body></html>
